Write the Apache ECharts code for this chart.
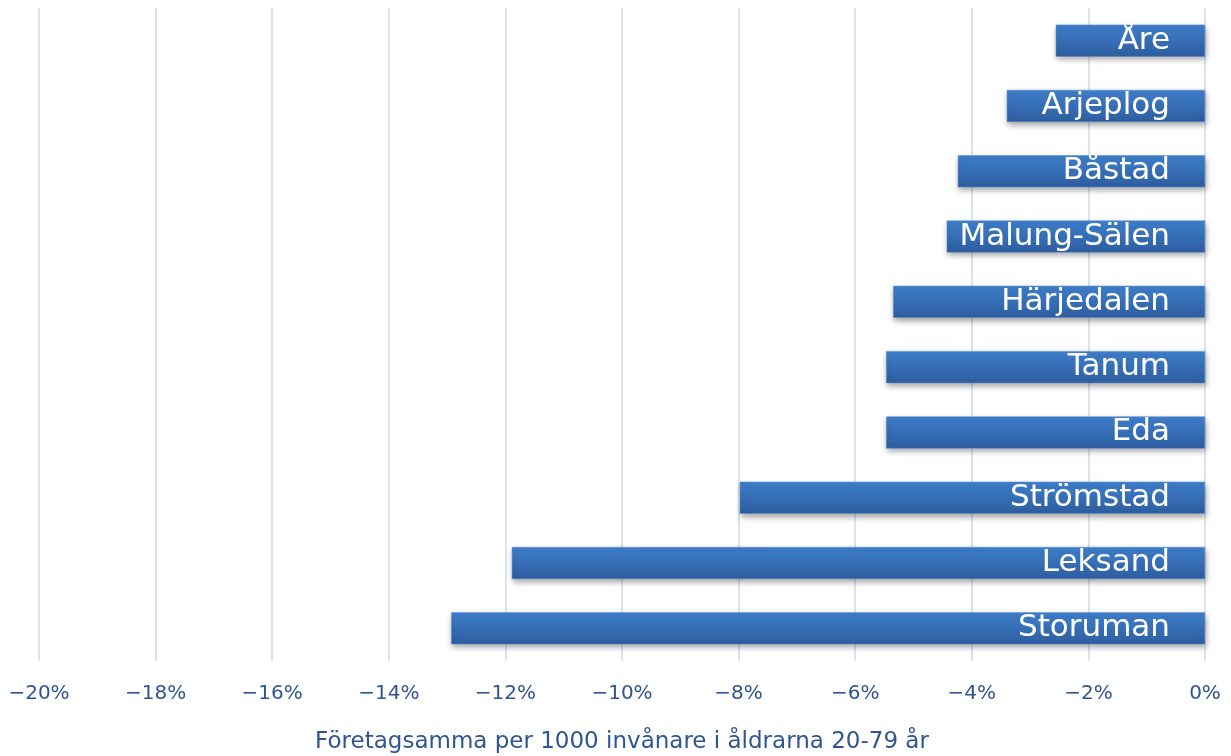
<!DOCTYPE html>
<html>
<head>
<meta charset="utf-8">
<script src="https://cdn.jsdelivr.net/npm/echarts@6/dist/echarts.min.js"></script>
<style>
html,body{margin:0;padding:0;background:#fff;}
#chart{width:1231px;height:756px;}
</style>
</head>
<body>
<div id="chart"></div>
<script>
const categories = ['Åre','Arjeplog','Båstad','Malung-Sälen','Härjedalen','Tanum','Eda','Strömstad','Leksand','Storuman'];
const values = [-2.56,-3.40,-4.24,-4.43,-5.35,-5.47,-5.47,-7.98,-11.89,-12.93];
const axisTitle = 'Företagsamma per 1000 invånare i åldrarna 20-79 år';

const FONT = 'DejaVu Sans';
const chart = echarts.init(document.getElementById('chart'));
chart.setOption({
  animation:false,
  grid:{left:39,right:26,top:8,bottom:95,containLabel:false,outerBoundsMode:'none'},
  xAxis:{
    type:'value',min:-20,max:0,interval:2,
    axisLine:{show:false},axisTick:{show:false},
    splitLine:{show:true,lineStyle:{color:'#dae3f0',width:2}},
    axisLabel:{
      color:'#2f5592',fontFamily:FONT,fontSize:20,margin:23,
      formatter:function(v){return (v<0?'−':'')+Math.abs(v)+'%';}
    },
    name:axisTitle,nameLocation:'middle',nameGap:70,
    nameTextStyle:{color:'#2f5592',fontFamily:FONT,fontSize:23}
  },
  yAxis:{
    type:'category',data:categories,inverse:true,
    axisLine:{show:false},axisTick:{show:false},axisLabel:{show:false},
    splitLine:{show:false}
  },
  series:[{
    type:'bar',data:values,barWidth:32,
    itemStyle:{
      color:new echarts.graphic.LinearGradient(0,0,0,1,[
        {offset:0,color:'#3f7fcc'},{offset:1,color:'#2d5d9f'}
      ]),
      borderColor:'#5a8fd4',borderWidth:0.5,
      shadowColor:'rgba(0,0,0,0.35)',shadowBlur:6,shadowOffsetY:3,shadowOffsetX:1
    },
    label:{
      show:true,position:'insideRight',distance:35,
      formatter:function(p){return p.name;},
      color:'#ffffff',fontFamily:FONT,fontSize:31
    }
  }]
});
</script>
</body>
</html>
